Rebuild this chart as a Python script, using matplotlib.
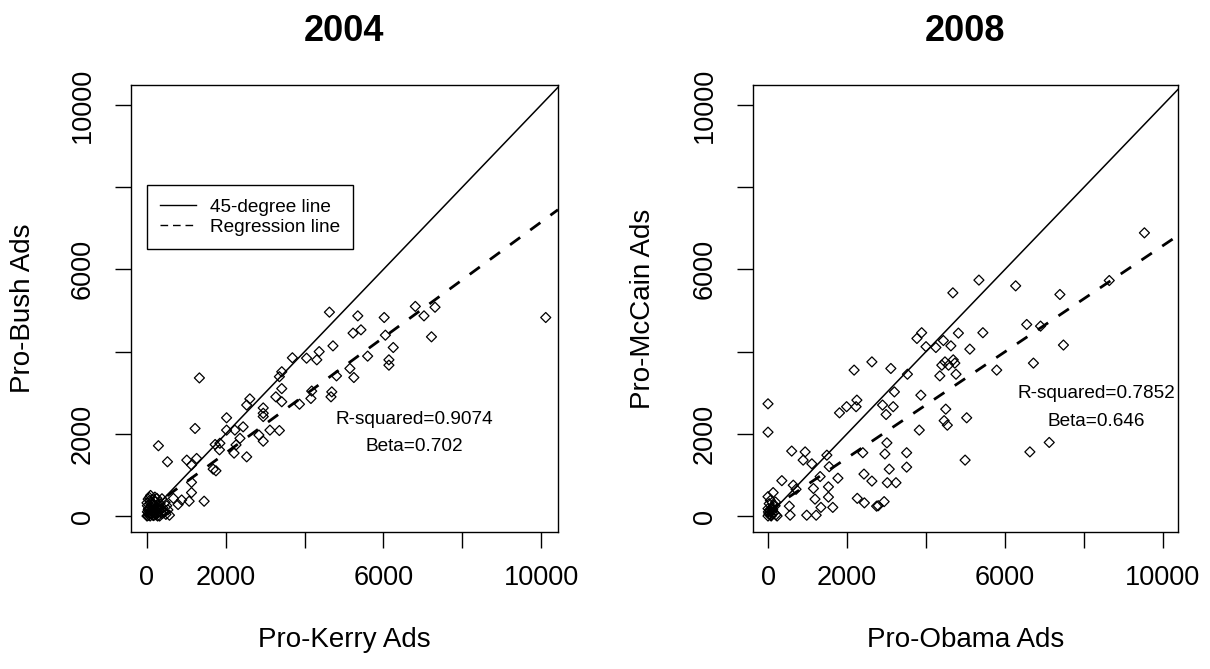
import matplotlib
matplotlib.use("Agg")
import matplotlib.pyplot as plt
from matplotlib.lines import Line2D
import numpy as np

plt.rcParams['font.family'] = ['Liberation Sans', 'DejaVu Sans']

# 2004: Pro-Kerry vs Pro-Bush ads
kerry_2004 = [4630, 5350, 6020, 6810, 7310, 7030, 5230, 5430, 6050, 7220,
              4720, 4370, 4310, 4050, 3690, 6250, 5600, 6140, 6140, 3420,
              3360, 5150, 5250, 4810, 1330, 3420, 3270, 3420, 2610, 2530,
              2950, 2950, 3870, 4160, 4180, 4690, 4670, 2950, 2020, 1220,
              2440, 2230, 2020, 3120, 3360, 2950, 2840, 2360, 2260, 1850,
              1730, 2210, 2530, 1840, 290, 520, 1010, 1260, 1130, 1750,
              1680, 1130, 1130, 670, 880, 1070, 1450, 790, 30, 250,
              570, 10120,
              0, 20, 50, 80, 100, 150, 200, 30, 60, 120, 250, 300, 180,
              90, 350, 400, 220, 40, 10, 270, 330, 150, 450, 60, 500, 380,
              0, 40, 110, 170, 230, 290, 350, 420, 480, 530, 70, 140, 200,
              260, 320, 10, 90, 160, 240, 310, 390, 460]
bush_2004 = [4960, 4870, 4830, 5100, 5080, 4870, 4450, 4530, 4400, 4360,
             4140, 4000, 3800, 3840, 3850, 4100, 3890, 3800, 3670, 3510,
             3390, 3590, 3370, 3410, 3360, 3100, 2900, 2780, 2850, 2700,
             2630, 2500, 2720, 2860, 3040, 3020, 2900, 2420, 2390, 2130,
             2170, 2090, 2090, 2090, 2080, 1820, 1970, 1890, 1730, 1770,
             1740, 1530, 1440, 1610, 1710, 1320, 1360, 1400, 1240, 1100,
             1140, 820, 570, 430, 390, 360, 360, 280, 410, 430,
             20, 4830,
             0, 10, 30, 0, 50, 20, 100, 150, 200, 120, 60, 150, 250,
             300, 80, 200, 350, 80, 250, 0, 300, 400, 100, 450, 250, 420,
             320, 180, 60, 10, 30, 90, 160, 120, 40, 150, 380, 270, 460,
             210, 0, 100, 500, 300, 180, 240, 60, 330]

# 2008: Pro-Obama vs Pro-McCain ads
obama_2008 = [5340, 4680, 3890, 3770, 4000, 4250, 4440, 4630, 4820, 5440,
              5110, 2630, 2180, 3110, 4400, 4480, 4690, 4570, 4730, 4350,
              4760, 3530, 5790, 6720, 3200, 3870, 2250, 1990, 1810, 2230,
              2900, 3170, 2990, 4500, 4460, 4540, 5030, 3830, 0, 0,
              3010, 2400, 2960, 3510, 4990, 600, 940, 890, 1110, 1490,
              1550, 3070, 3510, 1320, 1770, 2430, 2630, 3020, 3240, 350,
              640, 710, 1150, 1530, 1530, 1190, 1340, 1640, 540, 560,
              980, 1220, 2260, 2440, 2750, 2790, 2940, 130, 0, 9530,
              6270, 7390, 8640, 6550, 6900, 7480, 7120, 6630,
              0, 20, 50, 80, 100, 150, 200, 30, 60, 120, 180, 0, 230,
              10, 70, 140, 40, 110, 190]
mccain_2008 = [5740, 5430, 4460, 4320, 4120, 4100, 4270, 4140, 4450, 4460,
               4060, 3750, 3550, 3590, 3670, 3750, 3800, 3670, 3720, 3410,
               3450, 3450, 3550, 3720, 3020, 2940, 2820, 2660, 2510, 2660,
               2700, 2660, 2470, 2600, 2320, 2210, 2390, 2090, 2730, 2040,
               1780, 1540, 1510, 1540, 1360, 1580, 1560, 1360, 1270, 1480,
               1200, 1140, 1190, 960, 920, 1020, 850, 810, 810, 860,
               750, 650, 670, 710, 460, 410, 210, 210, 240, 20,
               20, 20, 430, 320, 240, 250, 350, 570, 470, 6890,
               5600, 5390, 5730, 4660, 4620, 4160, 1790, 1560,
               0, 50, 120, 0, 200, 80, 30, 300, 380, 150, 250, 180, 0,
               100, 20, 260, 150, 60, 340]

# regression fits and the text shown on each panel
fit_2004 = (130, 0.702)
fit_2008 = (120, 0.646)
stats_2004 = ["R-squared=0.9074", "Beta=0.702"]
stats_2008 = ["R-squared=0.7852", "Beta=0.646"]

tick_vals = [0, 2000, 4000, 6000, 8000, 10000]
tick_labels = ['0', '2000', '', '6000', '', '10000']

fig = plt.figure(figsize=(12.1, 6.69), dpi=100)
ax1 = fig.add_axes([0.10826, 0.20478, 0.35289, 0.66816])
ax2 = fig.add_axes([0.62231, 0.20478, 0.35124, 0.66816])

panels = [
    (ax1, kerry_2004, bush_2004, fit_2004, stats_2004, '2004',
     'Pro-Kerry Ads', 'Pro-Bush Ads', (-406, 10431), (6780, 2340, 1680), -0.253),
    (ax2, obama_2008, mccain_2008, fit_2008, stats_2008, '2008',
     'Pro-Obama Ads', 'Pro-McCain Ads', (-380, 10380), (8310, 2990, 2310), -0.259),
]

for ax, x, y, fit, stats, title, xlab, ylab, xl, txt, ylab_x in panels:
    ax.scatter(x, y, marker='D', s=26, facecolors='none', edgecolors='black',
               linewidths=0.9, zorder=3)
    xs = np.array([0, xl[1]])
    ax.plot(xs, xs, color='black', lw=1.1)
    ax.plot(xs, fit[0] + fit[1] * xs, color='black', lw=2.0,
            linestyle=(0, (4.5, 4.5)))
    ax.set_xlim(xl)
    ax.set_ylim(-389, 10487)

    ax.text(txt[0], txt[1], stats[0], ha='center', va='center', fontsize=13.7)
    ax.text(txt[0], txt[2], stats[1], ha='center', va='center', fontsize=13.7)

    ax.set_xticks(tick_vals)
    ax.set_xticklabels(tick_labels)
    ax.set_yticks(tick_vals)
    ax.set_yticklabels(tick_labels)
    ax.tick_params(length=11.5, width=1, labelsize=19.5, color='black')
    ax.tick_params(axis='x', pad=12)
    ax.tick_params(axis='y', pad=14)
    for lab in ax.get_yticklabels():
        lab.set_rotation(90)
        lab.set_va('center')
    for s in ax.spines.values():
        s.set_linewidth(1.0)

    ax.set_xlabel(xlab, fontsize=20)
    ax.set_ylabel(ylab, fontsize=20)
    ax.xaxis.set_label_coords(0.5, -0.241)
    ax.xaxis.label.set_va('center')
    ax.yaxis.set_label_coords(ylab_x, 0.5)
    ax.yaxis.label.set_va('center')

    ax.text(0.5, 1.119, title, transform=ax.transAxes, ha='center', va='center',
            fontsize=26, fontweight='bold')

handles = [Line2D([], [], color='black', lw=1),
           Line2D([], [], color='black', lw=1, linestyle=(0, (5.5, 3.5)))]
leg = ax1.legend(handles, ['45-degree line', 'Regression line'],
                 loc='upper left', bbox_to_anchor=(0.037, 0.776), borderaxespad=0,
                 fontsize=13.7, handlelength=1.9, handletextpad=0.7,
                 labelspacing=0.15, borderpad=0.7, fancybox=False, framealpha=1)
leg.get_frame().set_edgecolor('black')
leg.get_frame().set_linewidth(1.0)

fig.savefig('out.png', dpi=100)
